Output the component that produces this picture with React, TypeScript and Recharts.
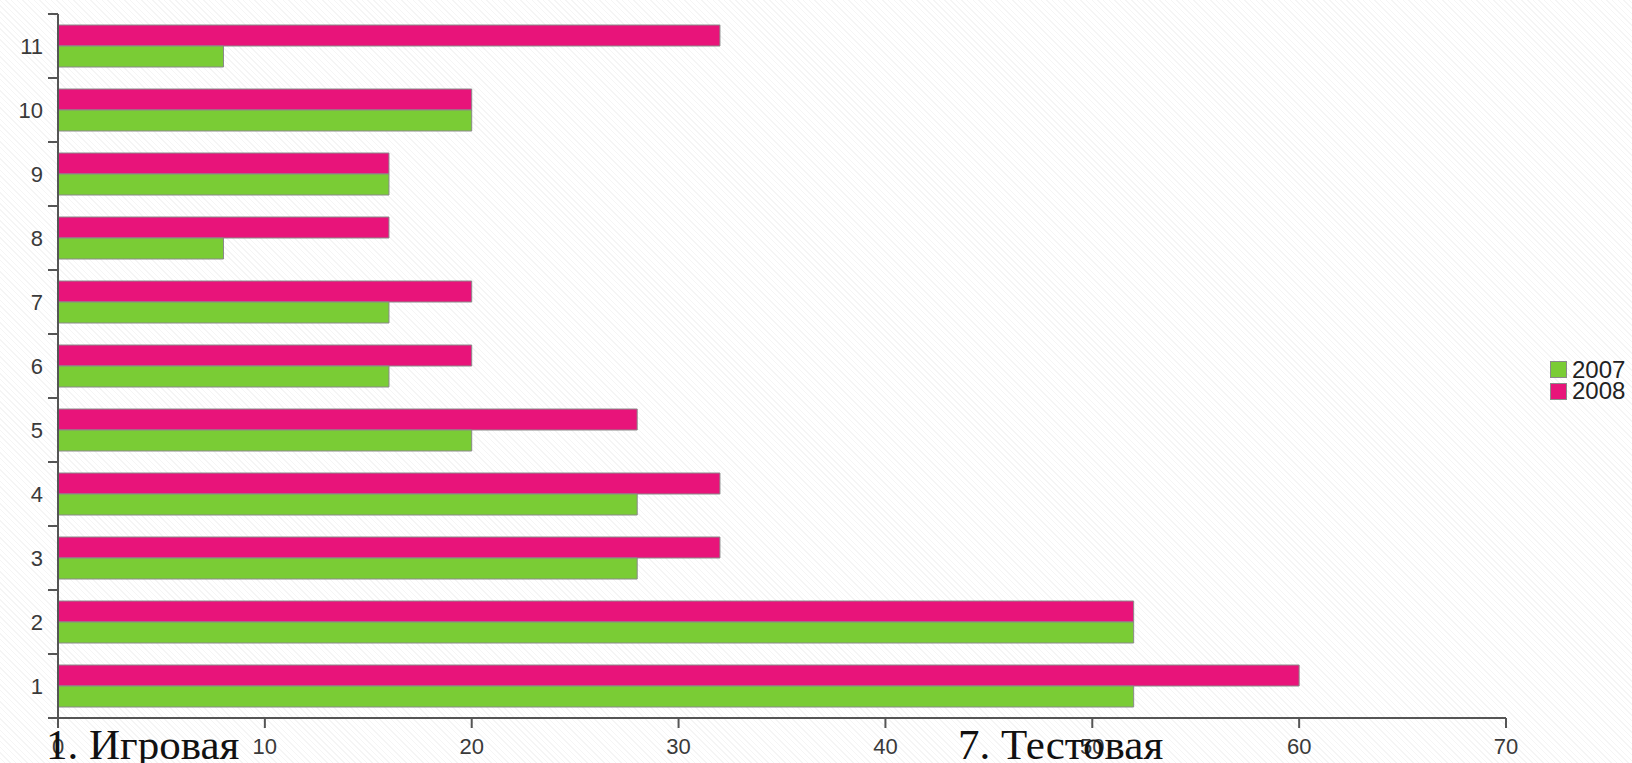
import { Bar, BarChart, XAxis, YAxis } from "recharts";

const categories = ["1", "2", "3", "4", "5", "6", "7", "8", "9", "10", "11"];
const values2007 = [52, 52, 28, 28, 20, 16, 16, 8, 16, 20, 8];
const values2008 = [60, 52, 32, 32, 28, 20, 20, 16, 16, 20, 32];
const xTicks = [0, 10, 20, 30, 40, 50, 60, 70];
const seriesNames = ["2007", "2008"];

const GREEN = "#7acc35";
const PINK = "#e8147a";
const EDGE = "#8a8a8a";
const AXIS = "#555";
const LABEL = "#3a3a3a";
const SANS = "Liberation Sans, Arial, sans-serif";

const W = 1632;
const H = 763;
const TOP = 14;
const BOTTOM_AXIS = 45;
const PLOT_H = H - TOP - BOTTOM_AXIS;
const BAND = PLOT_H / categories.length;

const data = categories.map((name, i) => ({
  name,
  y2007: values2007[i],
  y2008: values2008[i],
}));

type TickProps = {
  x?: number;
  y?: number;
  index?: number;
  payload?: { value: string };
};

// category label in the middle, tick mark on the band boundary
function CategoryTick({ x = 0, y = 0, index = 0, payload }: TickProps) {
  const lx = x + 5;
  return (
    <g>
      <text x={x} y={y} dy="0.36em" textAnchor="end" fill={LABEL} fontSize={22} fontFamily={SANS}>
        {payload?.value}
      </text>
      <line x1={lx} x2={lx + 10} y1={y - BAND / 2} y2={y - BAND / 2} stroke={AXIS} strokeWidth={2} />
      {index === 0 ? <line x1={lx} x2={lx + 10} y1={y + BAND / 2} y2={y + BAND / 2} stroke={AXIS} strokeWidth={2} /> : null}
    </g>
  );
}

function LegendBox() {
  const colors = [GREEN, PINK];
  return (
    <div style={{ position: "absolute", left: 1550, top: 359, fontFamily: SANS, fontSize: 24, color: "#222" }}>
      {seriesNames.map((name, i) => (
        <div key={name} style={{ display: "flex", alignItems: "center", height: 21.5 }}>
          <span style={{ width: 15, height: 15, background: colors[i], border: `1px solid ${EDGE}`, marginRight: 5, display: "inline-block" }} />
          <span>{name}</span>
        </div>
      ))}
    </div>
  );
}

const overlayStyle = {
  position: "absolute" as const,
  top: 720,
  fontFamily: "Liberation Serif, 'Times New Roman', serif",
  fontSize: 43,
  color: "#111",
  whiteSpace: "nowrap" as const,
  lineHeight: "50px",
};

export default function App() {
  return (
    <div
      style={{
        position: "absolute",
        left: 0,
        top: 0,
        width: W,
        height: H,
        overflow: "hidden",
        background: "repeating-linear-gradient(45deg, #ffffff 0px, #ffffff 3px, #f5f5f5 3px, #f5f5f5 4px)",
      }}
    >
      <BarChart
        width={W}
        height={H}
        data={data}
        layout="vertical"
        margin={{ top: TOP, right: 126, left: 0, bottom: 0 }}
        barCategoryGap={11}
        barGap={0}
      >
        <XAxis
          type="number"
          domain={[0, 70]}
          ticks={xTicks}
          interval={0}
          height={BOTTOM_AXIS}
          tickSize={10}
          tickMargin={10}
          axisLine={{ stroke: AXIS, strokeWidth: 2 }}
          tickLine={{ stroke: AXIS, strokeWidth: 2 }}
          tick={{ fill: LABEL, fontSize: 22, fontFamily: SANS }}
        />
        <YAxis
          type="category"
          dataKey="name"
          reversed
          width={58}
          tickSize={10}
          tickMargin={5}
          interval={0}
          tickLine={false}
          axisLine={{ stroke: AXIS, strokeWidth: 2 }}
          tick={(props) => <CategoryTick {...props} />}
        />
        <Bar dataKey="y2008" name="2008" fill={PINK} stroke={EDGE} strokeWidth={1} isAnimationActive={false} />
        <Bar dataKey="y2007" name="2007" fill={GREEN} stroke={EDGE} strokeWidth={1} isAnimationActive={false} />
      </BarChart>
      <LegendBox />
      <div style={{ ...overlayStyle, left: 46 }}>1. Игровая</div>
      <div style={{ ...overlayStyle, left: 958 }}>7. Тестовая</div>
    </div>
  );
}
